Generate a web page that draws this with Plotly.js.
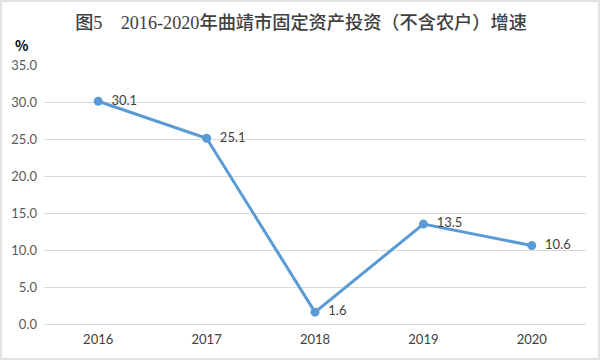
<!DOCTYPE html>
<html><head><meta charset="utf-8">
<script src="https://cdn.plot.ly/plotly-3.0.1.min.js"></script>
<style>html,body{margin:0;padding:0;background:#fff}#chart{width:600px;height:360px}</style>
</head><body><div id="chart"></div>
<script>
const years = ['2016','2017','2018','2019','2020'];
const growth = [30.1, 25.1, 1.6, 13.5, 10.6];
const yTicks = [0,5,10,15,20,25,30,35];
const titleText = '图5　2016-2020年曲靖市固定资产投资（不含农户）增速';
const unitLabel = '%';

const W = 600, H = 360, m = {l:44, r:14, t:65, b:36};
const pw = W - m.l - m.r, ph = H - m.t - m.b;

const trace = {
  x: years, y: growth, type: 'scatter', mode: 'lines+markers+text',
  text: growth.map(v => '  ' + v.toFixed(1)),
  textposition: 'middle right',
  textfont: {family: 'Lato, "Liberation Sans", sans-serif', size: 13, color: '#404040'},
  line: {color: '#5B9BD5', width: 3},
  marker: {color: '#5B9BD5', size: 9},
  cliponaxis: false, hoverinfo: 'none'
};

const layout = {
  width: W, height: H, margin: m,
  paper_bgcolor: '#fff', plot_bgcolor: '#fff',
  showlegend: false,
  title: {text: titleText, x: 301/W, xanchor: 'center', y: 1 - 23/H, yanchor: 'middle',
    font: {family: '"Liberation Serif", "Noto Sans CJK SC", serif', size: 18.2, color: '#404040', weight: 500}},
  xaxis: {type: 'category', range: [-0.5, 4.5], showgrid: false, zeroline: false, showline: false, ticks: '',
    ticklabelstandoff: 6,
    tickfont: {family: 'Lato, "Liberation Sans", sans-serif', size: 13, color: '#404040'}, fixedrange: true},
  yaxis: {range: [0, 35], tickvals: yTicks, ticktext: yTicks.map(v => v.toFixed(1)),
    showgrid: true, gridcolor: '#D9D9D9', gridwidth: 1, zeroline: true, zerolinecolor: '#D9D9D9', zerolinewidth: 1,
    showline: false, ticks: '', ticklabelstandoff: 6,
    tickfont: {family: 'Lato, "Liberation Sans", sans-serif', size: 13, color: '#595959'}, fixedrange: true},
  annotations: [{text: unitLabel, xref: 'paper', yref: 'paper', x: -22/pw, y: 1 + 20/ph,
    xanchor: 'center', yanchor: 'middle', showarrow: false,
    font: {family: '"Noto Sans CJK SC", sans-serif', size: 14, color: '#000', weight: 'bold'}}],
  shapes: [{type: 'rect', xref: 'paper', yref: 'paper', layer: 'above',
    x0: (-m.l + 1) / pw, x1: 1 + (m.r - 1) / pw, y0: -(m.b - 1) / ph, y1: 1 + (m.t - 1) / ph,
    line: {color: '#D9D9D9', width: 1.5}}]
};

Plotly.newPlot('chart', [trace], layout, {displayModeBar: false, staticPlot: true});
</script></body></html>
